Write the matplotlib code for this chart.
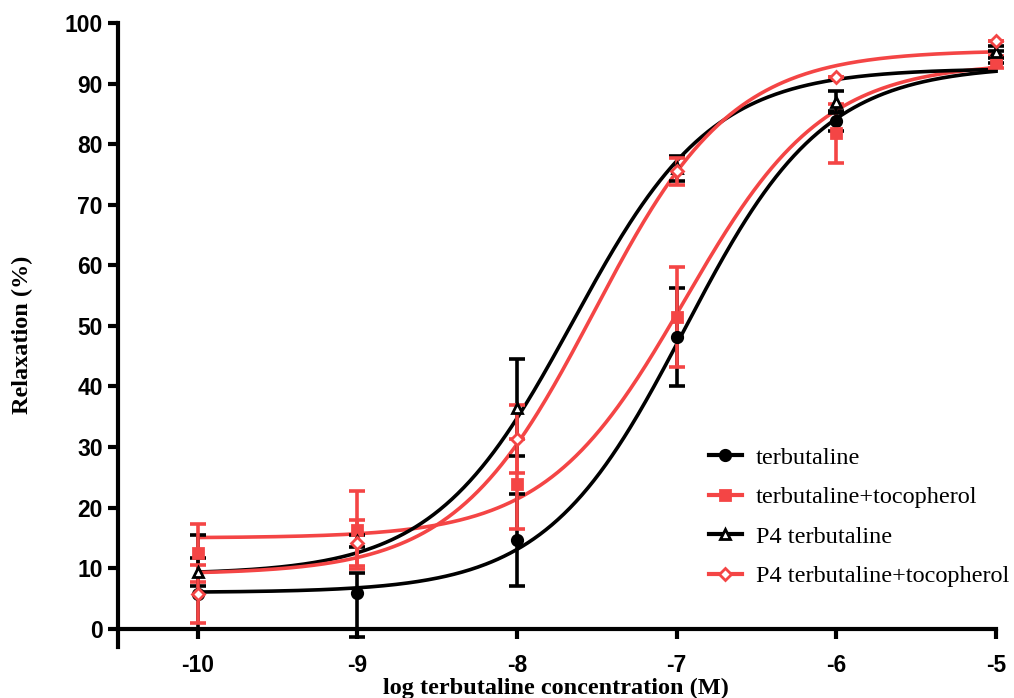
import numpy as np
import matplotlib
matplotlib.use("Agg")
import matplotlib.pyplot as plt
from matplotlib.lines import Line2D

# ---- data ----
log_conc = [-10, -9, -8, -7, -6, -5]

terb_mean = [5.8, 5.9, 14.7, 48.2, 83.8, 94.4]
terb_err_lo = [5.8, 7.3, 7.6, 8.1, 1.7, 1.0]
terb_err_hi = [9.7, 3.3, 7.6, 8.1, 1.7, 1.0]

terbtoc_mean = [12.5, 16.3, 23.9, 51.5, 81.8, 93.6]
terbtoc_err = [4.8, 6.5, 7.5, 8.2, 4.9, 1.0]

p4terb_mean = [9.4, 14.5, 36.5, 76.0, 87.0, 95.2]
p4terb_err = [2.3, 1.0, 8.0, 2.0, 1.8, 1.0]

p4terbtoc_mean = [5.8, 14.2, 31.3, 75.5, 91.1, 97.0]
p4terbtoc_err = [4.8, 3.8, 5.6, 2.2, 0.0, 0.0]

# four-parameter logistic fit parameters: bottom, top, logEC50, hill
terb_fit = [6.0, 93.0, -6.95, 1.0]
terbtoc_fit = [15.0, 93.5, -6.95, 1.0]
p4terb_fit = [9.0, 92.5, -7.65, 1.0]
p4terbtoc_fit = [9.0, 95.5, -7.52, 1.0]

labels = ["terbutaline", "terbutaline+tocopherol", "P4 terbutaline",
          "P4 terbutaline+tocopherol"]

RED = "#F44545"
BLK = "#000000"


def logistic(x, p):
    b, t, ec, h = p
    return b + (t - b) / (1 + 10 ** ((ec - x) * h))


fig = plt.figure(figsize=(10.14, 6.98), dpi=100)
ax = fig.add_axes([118 / 1014, 51 / 698, (996 - 118) / 1014, (647 - 23) / 698])

xs = np.linspace(-10, -5, 400)

series = [
    (terb_mean, [terb_err_lo, terb_err_hi], terb_fit, BLK, "o", BLK),
    (terbtoc_mean, terbtoc_err, terbtoc_fit, RED, "s", RED),
    (p4terb_mean, p4terb_err, p4terb_fit, BLK, "^", "white"),
    (p4terbtoc_mean, p4terbtoc_err, p4terbtoc_fit, RED, "D", "white"),
]

for i, (m, e, fit, col, mk, fc) in enumerate(series):
    ax.plot(xs, logistic(xs, fit), color=col, lw=2.6, zorder=2, clip_on=False)
    ax.errorbar(log_conc, m, yerr=e, fmt="none", ecolor=col, elinewidth=2.6,
                capsize=6, capthick=2.6, zorder=3, clip_on=False)
    ms = 7.5 if mk != "D" else 6.5
    ax.plot(log_conc, m, linestyle="none", marker=mk, markersize=ms,
            markerfacecolor=fc, markeredgecolor=col, markeredgewidth=2,
            zorder=4, clip_on=False)

ax.set_xlim(-10.5, -5)
ax.set_ylim(-3, 100)

for s in ["top", "right"]:
    ax.spines[s].set_visible(False)
ax.spines["bottom"].set_position(("data", 0))
ax.spines["bottom"].set_bounds(-10.5, -5)
ax.spines["left"].set_linewidth(3)
ax.spines["bottom"].set_linewidth(3)

ax.set_xticks(log_conc)
ax.set_xticklabels([str(v) for v in log_conc])
ax.set_yticks(np.arange(0, 101, 10))
ax.tick_params(axis="both", direction="out", length=7, width=3, labelsize=16.5,
               pad=4)
for lab in ax.get_xticklabels() + ax.get_yticklabels():
    lab.set_fontweight("bold")
    lab.set_family("Liberation Sans")
ax.tick_params(axis="x", pad=11)

fig.text(556 / 1014, 1 - 688 / 698,
         "log terbutaline concentration (M)", ha="center", va="center",
         fontsize=17.5, fontweight="bold", family="Liberation Serif")
fig.text(22 / 1014, 1 - 335 / 698, "Relaxation (%)", ha="center",
         va="center", rotation=90, fontsize=17.5, fontweight="bold",
         family="Liberation Serif")

handles = []
for (m, e, fit, col, mk, fc) in series:
    ms = 7.5 if mk != "D" else 6.5
    handles.append(Line2D([], [], color=col, lw=3, marker=mk, markersize=ms,
                          markerfacecolor=fc, markeredgecolor=col,
                          markeredgewidth=2))
leg = ax.legend(handles, labels, loc="upper left",
                bbox_to_anchor=(687 / 1014, 1 - 425 / 698),
                bbox_transform=fig.transFigure, frameon=False,
                prop={"family": "Liberation Serif", "size": 17.5},
                handlelength=1.36, handletextpad=0.58, labelspacing=0.72)

fig.savefig("out.png", dpi=100)
